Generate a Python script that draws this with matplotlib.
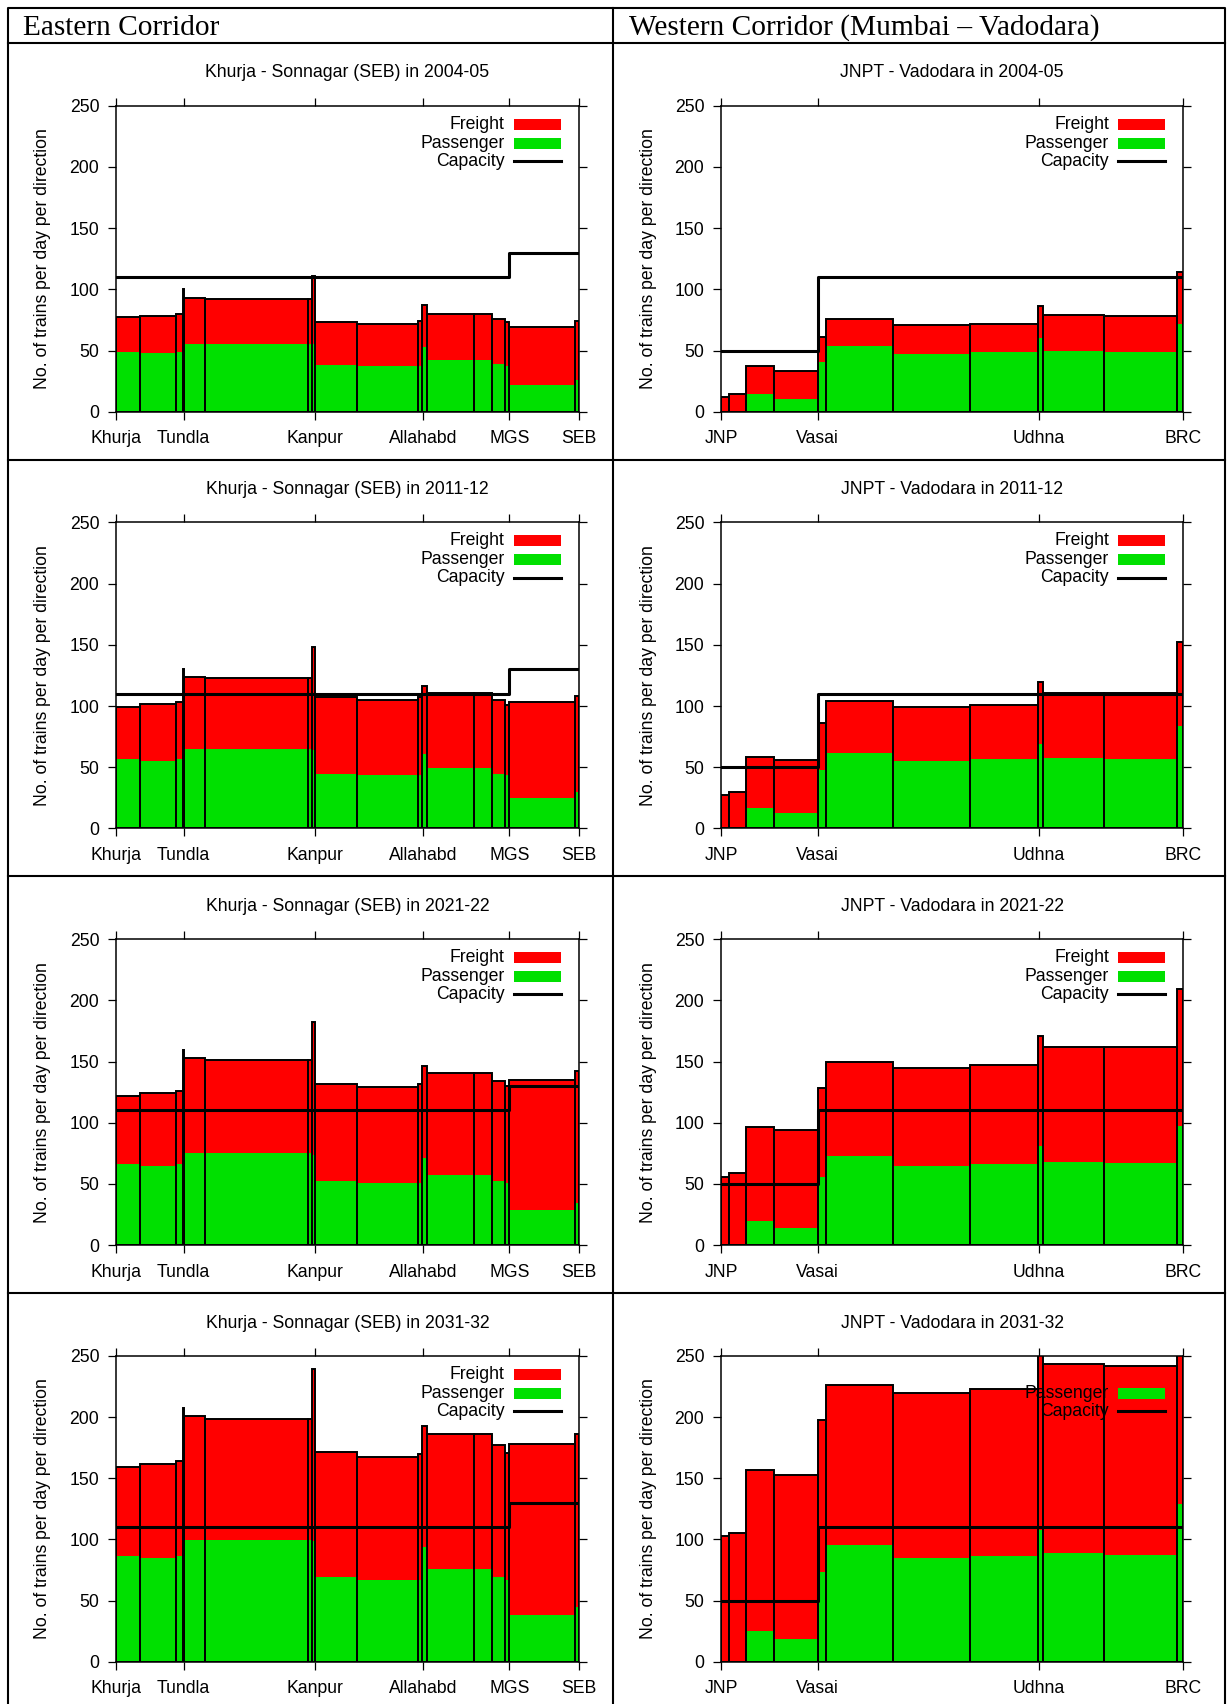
import numpy as np
import matplotlib.pyplot as plt
from matplotlib.patches import Rectangle

plt.rcParams['font.family'] = ['Liberation Sans', 'DejaVu Sans']

W, H = 1228, 1704
RED = '#ff0000'
GREEN = '#00e000'
FS = 12.7

years = ['2004-05', '2011-12', '2021-22', '2031-32']

# Eastern corridor: section boundaries (km from Khurja)
east_edges = [0, 42, 106, 118, 120, 157, 340, 348, 353, 427, 535, 543, 552, 634, 666, 689, 697, 814, 820]
east_ticks = [0, 120, 352, 544, 697, 820]
east_names = ['Khurja', 'Tundla', 'Kanpur', 'Allahabd', 'MGS', 'SEB']
east_cap_x = [0, 697, 820]
east_cap = [110, 130]

east_tot_2004 = [77, 78, 79.5, 100, 92.5, 92, 92, 111, 73.5, 72, 74, 87, 80, 80, 75.5, 73, 69.5, 74.5]
east_pas_2004 = [49, 48, 49, 56, 55.5, 55.5, 55.5, 55, 38.5, 37.5, 37.5, 53, 42.5, 42.5, 39, 37.5, 22, 25.5]
east_tot_2011 = [99, 101.5, 103, 130, 124, 122.5, 122.5, 148, 107, 104.5, 107, 116, 110.5, 110.5, 105, 101, 103, 108]
east_pas_2011 = [56.5, 55, 56.5, 64.5, 64.5, 64.5, 64.5, 64, 44.5, 43.5, 43.5, 61, 49.5, 49.5, 44.5, 43.5, 25, 29.5]
east_tot_2021 = [121.5, 124, 126, 159, 152.5, 151.5, 151.5, 182.5, 132, 129.5, 132, 146, 141, 141, 134, 130, 135, 142]
east_pas_2021 = [66.5, 65, 66.5, 75, 75, 75, 75, 74, 52, 50.5, 50.5, 71, 57.5, 57.5, 52, 50.5, 29, 34]
east_tot_2031 = [159.5, 162, 164, 207, 200.5, 198.5, 198.5, 239.5, 171, 167.5, 170, 193, 186.5, 186.5, 177.5, 170.5, 178, 186.5]
east_pas_2031 = [86.5, 85, 86.5, 99.5, 99.5, 99.5, 99.5, 99, 69, 67, 67, 94, 75.5, 75.5, 69, 67, 38, 45]

# Western corridor: section boundaries (km from JNPT)
west_edges = [0, 7.7, 23, 49, 90, 98, 160.5, 232, 295, 299.5, 356.5, 424.5, 430]
west_ticks = [0, 90, 296, 430]
west_names = ['JNP', 'Vasai', 'Udhna', 'BRC']
west_cap_x = [0, 90, 430]
west_cap = [50, 110]

west_tot_2004 = [12, 14.5, 37, 33, 61, 75.5, 70.5, 72, 86.5, 79, 78, 114]
west_pas_2004 = [0, 0, 14.5, 10.5, 41, 54, 47.5, 49, 60, 49.5, 49, 72]
west_tot_2011 = [27, 29.5, 58.5, 56, 86.5, 104, 99, 101, 119.5, 111, 110.5, 152]
west_pas_2011 = [0, 0, 17, 12.5, 47.5, 62, 55, 56.5, 69, 57.5, 57, 84]
west_tot_2021 = [55.5, 58.5, 96.5, 94, 128, 150, 145, 147, 171, 162, 161.5, 209]
west_pas_2021 = [0, 0, 19.5, 14, 56, 73, 64.5, 66, 81, 67.5, 67, 97]
west_tot_2031 = [102.5, 105.5, 157, 153, 197.5, 226.5, 220, 222.5, 270, 243.5, 242, 290]
west_pas_2031 = [0, 0, 25.5, 18.5, 73.5, 95.5, 85, 86.5, 108, 89, 87.5, 129]

east_tot = [east_tot_2004, east_tot_2011, east_tot_2021, east_tot_2031]
east_pas = [east_pas_2004, east_pas_2011, east_pas_2021, east_pas_2031]
west_tot = [west_tot_2004, west_tot_2011, west_tot_2021, west_tot_2031]
west_pas = [west_pas_2004, west_pas_2011, west_pas_2021, west_pas_2031]

fig = plt.figure(figsize=(W / 100, H / 100), dpi=100)

# page layer in pixel units for the table rules and headings
page = fig.add_axes([0, 0, 1, 1])
page.set_xlim(0, W)
page.set_ylim(H, 0)
page.axis('off')

L, R, T, B = 8, 1225, 7.5, H + 5
mid = 613
rows_y = [42.7, 459.5, 876.2, 1292.9]
lw_tab = 1.5
page.plot([L, L, R, R], [B, T, T, B], color='black', lw=lw_tab)
page.plot([mid, mid], [T, B], color='black', lw=lw_tab)
for y in rows_y:
    page.plot([L, R], [y, y], color='black', lw=lw_tab)
page.text(23, 35, 'Eastern Corridor', fontsize=21.2, family='Liberation Serif', va='baseline')
page.text(629, 35, 'Western Corridor (Mumbai \u2013 Vadodara)', fontsize=21.2,
          family='Liberation Serif', va='baseline')


def px_axes(left, top, right, bottom):
    return fig.add_axes([left / W, 1 - bottom / H, (right - left) / W, (bottom - top) / H])


def draw_panel(ax, edges, total, passenger, cap_x, cap_y, ticks, names, title):
    edges = np.array(edges, dtype=float)
    total = np.array(total, dtype=float)
    passenger = np.array(passenger, dtype=float)
    lefts = edges[:-1]
    widths = np.diff(edges)

    ax.bar(lefts, passenger, width=widths, align='edge', color=GREEN, linewidth=0, zorder=2)
    ax.bar(lefts, total - passenger, bottom=passenger, width=widths, align='edge',
           color=RED, linewidth=0, zorder=2)
    ax.bar(lefts, total, width=widths, align='edge', fill=False, edgecolor='black',
           linewidth=1.4, zorder=3)
    ax.step(cap_x, cap_y + [cap_y[-1]], where='post', color='black', lw=2.2, zorder=5)

    ax.set_xlim(edges[0], edges[-1])
    ax.set_ylim(0, 250)
    ax.set_yticks(range(0, 251, 50))
    ax.set_xticks(ticks)
    ax.set_xticklabels(names)
    ax.tick_params(direction='out', length=5.8, width=0.9, top=True, right=True,
                   labelsize=FS, pad=6.2)
    ax.tick_params(axis='x', pad=7.6)
    for sp in ax.spines.values():
        sp.set_linewidth(1.1)
    ax.set_ylabel('No. of trains per day per direction', fontsize=FS, va='center')
    ax.yaxis.set_label_coords(-0.158, 0.5)
    ax.text(0.5, 1.107, title, transform=ax.transAxes, ha='center', va='center', fontsize=FS)

    # key: freight entry sits under the bars, the others on top
    rows = [0.94, 0.878, 0.819]
    tx, sx, sw, sh = 0.84, 0.86, 0.102, 0.036
    ax.text(tx, rows[0], 'Freight', transform=ax.transAxes, ha='right', va='center',
            fontsize=FS, zorder=1)
    ax.add_patch(Rectangle((sx, rows[0] - sh / 2), sw, sh, transform=ax.transAxes,
                           facecolor=RED, edgecolor='none', zorder=1))
    ax.text(tx, rows[1], 'Passenger', transform=ax.transAxes, ha='right', va='center',
            fontsize=FS, zorder=6)
    ax.add_patch(Rectangle((sx, rows[1] - sh / 2), sw, sh, transform=ax.transAxes,
                           facecolor=GREEN, edgecolor='none', zorder=6))
    ax.text(tx, rows[2], 'Capacity', transform=ax.transAxes, ha='right', va='center',
            fontsize=FS, zorder=6)
    ax.plot([sx, sx + sw], [rows[2], rows[2]], transform=ax.transAxes, color='black',
            lw=2.2, zorder=6, clip_on=False)


for i, yr in enumerate(years):
    top = 105.7 + 416.7 * i
    ax_e = px_axes(116, top, 578.7, top + 306)
    draw_panel(ax_e, east_edges, east_tot[i], east_pas[i], east_cap_x, east_cap,
               east_ticks, east_names, 'Khurja - Sonnagar (SEB) in ' + yr)
    ax_w = px_axes(721, top, 1183, top + 306)
    draw_panel(ax_w, west_edges, west_tot[i], west_pas[i], west_cap_x, west_cap,
               west_ticks, west_names, 'JNPT - Vadodara in ' + yr)

fig.savefig('out.png', dpi=100)
